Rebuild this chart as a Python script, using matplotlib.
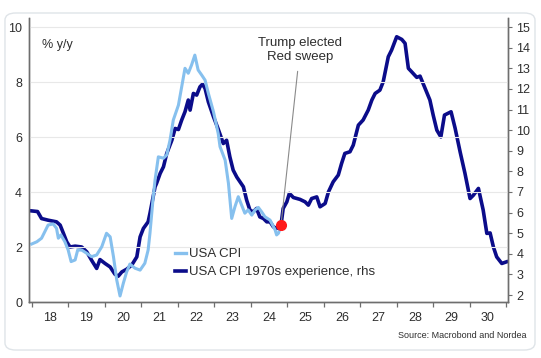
import matplotlib
matplotlib.use("Agg")
import matplotlib.pyplot as plt
from matplotlib.lines import Line2D
from matplotlib.patches import FancyBboxPatch
from matplotlib.ticker import FixedLocator, NullFormatter

plt.rcParams['font.family'] = ['Liberation Sans', 'DejaVu Sans']

# USA CPI, % y/y (left axis)
cpi_years = [2018.00, 2018.14, 2018.27, 2018.36, 2018.45, 2018.59, 2018.68, 2018.73, 2018.80, 2018.91,
             2019.00, 2019.08, 2019.19, 2019.26, 2019.37, 2019.51, 2019.64, 2019.78, 2019.92, 2020.05,
             2020.15, 2020.24, 2020.33, 2020.42, 2020.51, 2020.60, 2020.69, 2020.83, 2020.97, 2021.10,
             2021.19, 2021.24, 2021.33, 2021.38, 2021.47, 2021.61, 2021.70, 2021.79, 2021.88, 2022.02,
             2022.11, 2022.20, 2022.29, 2022.38, 2022.47, 2022.56, 2022.66, 2022.75, 2022.84, 2022.98,
             2023.11, 2023.16, 2023.30, 2023.39, 2023.48, 2023.57, 2023.66, 2023.75, 2023.84, 2023.93,
             2024.03, 2024.12, 2024.21, 2024.30, 2024.39, 2024.53, 2024.67, 2024.71, 2024.76, 2024.82]
cpi_values = [2.11, 2.19, 2.32, 2.56, 2.80, 2.84, 2.68, 2.32, 2.44, 2.19,
              1.89, 1.47, 1.53, 1.89, 1.89, 1.77, 1.65, 1.71, 2.01, 2.50,
              2.37, 1.65, 0.80, 0.22, 0.68, 1.09, 1.38, 1.23, 1.16, 1.41,
              1.89, 2.50, 3.83, 4.44, 5.28, 5.23, 5.35, 5.89, 6.62, 7.16,
              7.83, 8.50, 8.32, 8.62, 8.98, 8.44, 8.25, 8.07, 7.59, 6.92,
              6.13, 5.65, 5.16, 4.32, 3.04, 3.47, 3.83, 3.53, 3.23, 3.35,
              3.16, 3.35, 3.44, 3.28, 3.10, 2.98, 2.62, 2.44, 2.50, 2.74]

# USA CPI 1970s experience (right axis)
cpi70_years = [2018.00, 2018.16, 2018.27, 2018.45, 2018.68, 2018.78, 2018.87, 2018.96, 2019.05, 2019.19,
               2019.37, 2019.51, 2019.64, 2019.78, 2019.87, 2020.01, 2020.15, 2020.28, 2020.37, 2020.47,
               2020.60, 2020.74, 2020.88, 2020.97, 2021.06, 2021.19, 2021.24, 2021.38, 2021.42, 2021.52,
               2021.61, 2021.70, 2021.84, 2021.93, 2022.02, 2022.11, 2022.20, 2022.29, 2022.34, 2022.43,
               2022.52, 2022.61, 2022.68, 2022.75, 2022.84, 2022.98, 2023.11, 2023.25, 2023.34, 2023.43,
               2023.52, 2023.62, 2023.80, 2023.89, 2023.98, 2024.07, 2024.16, 2024.25, 2024.35, 2024.44,
               2024.53, 2024.62, 2024.71, 2024.83, 2024.89, 2024.99, 2025.06, 2025.17, 2025.35, 2025.49,
               2025.58, 2025.67, 2025.81, 2025.90, 2026.04, 2026.13, 2026.26, 2026.40, 2026.49, 2026.58,
               2026.72, 2026.81, 2026.95, 2027.08, 2027.22, 2027.32, 2027.41, 2027.54, 2027.63, 2027.77,
               2027.86, 2028.00, 2028.14, 2028.23, 2028.32, 2028.41, 2028.55, 2028.64, 2028.78, 2028.91,
               2029.00, 2029.10, 2029.21, 2029.31, 2029.49, 2029.60, 2029.74, 2029.87, 2030.01, 2030.10,
               2030.24, 2030.37, 2030.47, 2030.56, 2030.65, 2030.74, 2030.88, 2031.01]
cpi70_values = [6.08, 6.05, 5.71, 5.63, 5.55, 5.39, 4.99, 4.58, 4.33, 4.37,
                4.33, 4.09, 3.69, 3.29, 3.72, 3.53, 3.36, 3.01, 2.91, 3.12,
                3.25, 3.45, 3.85, 4.82, 5.23, 5.55, 5.96, 7.25, 7.41, 7.90,
                8.22, 8.87, 9.51, 10.08, 10.03, 10.49, 10.89, 11.46, 10.97, 11.78,
                11.70, 12.10, 12.23, 12.02, 11.37, 10.65, 10.05, 9.35, 9.51, 8.70,
                8.06, 7.72, 7.25, 6.60, 6.12, 6.03, 6.20, 5.79, 5.71, 5.55,
                5.55, 5.31, 5.23, 5.39, 6.20, 6.52, 6.93, 6.73, 6.64, 6.52,
                6.36, 6.68, 6.76, 6.28, 6.44, 7.00, 7.49, 7.82, 8.38, 8.87,
                8.95, 9.27, 10.24, 10.49, 10.97, 11.46, 11.78, 11.94, 12.34, 13.56,
                13.88, 14.53, 14.40, 14.21, 13.00, 12.83, 12.56, 12.62, 12.02, 11.46,
                10.73, 10.00, 9.67, 10.73, 10.89, 10.10, 8.93, 7.91, 6.68, 6.84,
                7.17, 6.12, 4.99, 5.01, 4.33, 3.85, 3.53, 3.61]

election_year = 2024.83
election_value = 2.80  # left-axis units
year_labels = ['18', '19', '20', '21', '22', '23', '24', '25', '26', '27', '28', '29', '30']

light = '#86c0ee'
dark = '#0b0c8a'
spine_col = '#6e6e6e'
txt = '#2e2e2e'

fig = plt.figure(figsize=(5.41, 3.58), dpi=100)
ax = fig.add_axes([0.0536, 0.1564, 0.8854, 0.7933])
ax2 = ax.twinx()

ax2.plot(cpi70_years, cpi70_values, color=dark, lw=2.6, solid_joinstyle='round')
ax.plot(cpi_years, cpi_values, color=light, lw=2.2, solid_joinstyle='round')
ax.plot([election_year], [election_value], 'o', color='#ff1a1a', ms=7, zorder=5)

ax.annotate('Trump elected\nRed sweep', xy=(election_year, election_value),
            xytext=(2025.35, 9.17), ha='center', va='center', fontsize=9.5, color=txt,
            linespacing=1.25,
            arrowprops=dict(arrowstyle='-', color='#8a8a8a', lw=0.8, shrinkA=4, shrinkB=0))

# light line over dark, axis behind
ax.set_zorder(ax2.get_zorder() + 1)
ax.patch.set_visible(False)

ax.set_xlim(2017.926, 2031.05)
ax.set_ylim(0, 10.33)
ax2.set_ylim(1.66, 15.44)

ax.set_yticks([0, 2, 4, 6, 8, 10])
ax2.set_yticks(range(2, 16))
ax.grid(axis='y', color='#e8e8e8', lw=0.8)
ax.set_axisbelow(True)

ax.xaxis.set_major_locator(FixedLocator(range(2018, 2032)))
ax.xaxis.set_major_formatter(NullFormatter())
ax.xaxis.set_minor_locator(FixedLocator([y + 0.5 for y in range(2018, 2031)]))
ax.set_xticklabels(year_labels, minor=True)
ax.tick_params(axis='x', which='major', length=3.5, width=0.9, color=spine_col, direction='out')
ax.tick_params(axis='x', which='minor', length=0, pad=7.5, labelsize=9, labelcolor=txt)
ax.tick_params(axis='y', length=0, pad=5, labelsize=9, labelcolor=txt)
ax2.tick_params(axis='y', length=3, width=0.8, color=spine_col, pad=3, labelsize=9, labelcolor=txt)

for a in (ax, ax2):
    a.spines['top'].set_visible(False)
    for s in ('left', 'right', 'bottom'):
        a.spines[s].set_color(spine_col)
        a.spines[s].set_linewidth(1.0)

ax.text(0.027, 0.905, '% y/y', transform=ax.transAxes, fontsize=9, color=txt, va='center')

handles = [Line2D([], [], color=light, lw=2.4), Line2D([], [], color=dark, lw=2.6)]
ax.legend(handles, ['USA CPI', 'USA CPI 1970s experience, rhs'], loc='upper left',
          bbox_to_anchor=(0.305, 0.19), frameon=False, fontsize=9.5, handlelength=0.85,
          handletextpad=0.2, borderpad=0, borderaxespad=0, labelspacing=0.45, labelcolor=txt)

fig.text(527 / 541, 1 - 336 / 358, 'Source: Macrobond and Nordea', ha='right', va='center',
         fontsize=6.5, color=txt)

fig.patches.append(FancyBboxPatch((0.0092, 0.0223), 0.9797, 0.9414,
                                  boxstyle='round,pad=0,rounding_size=0.02',
                                  transform=fig.transFigure, fill=False,
                                  edgecolor='#dfe4e8', lw=1.0))

fig.savefig('out.png', dpi=100)
